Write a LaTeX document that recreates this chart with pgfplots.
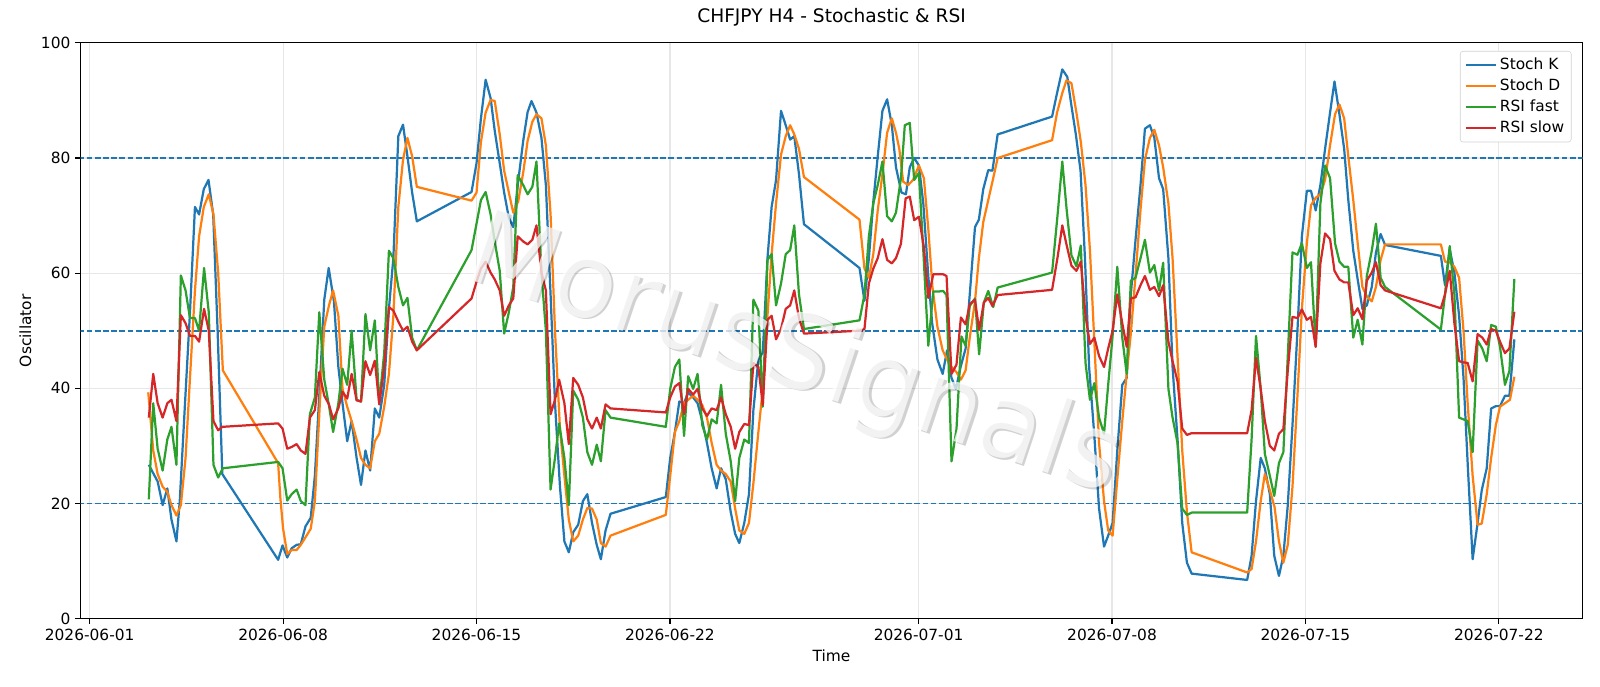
\documentclass[border=0pt]{standalone}
\usepackage{fontspec}
\setmainfont{DejaVu Sans}
\usepackage{pgfplots}
\usepackage{pgfplotstable}
\pgfplotsset{compat=1.18}
\definecolor{C0}{HTML}{1F77B4}
\definecolor{C1}{HTML}{FF7F0E}
\definecolor{C2}{HTML}{2CA02C}
\definecolor{C3}{HTML}{D62728}

\pgfplotstableread{
d v
2.14 26.7
2.46 23.8
2.64 19.7
2.81 22.6
2.96 17.2
3.14 13.4
3.26 20.4
3.45 37.4
3.63 53.2
3.81 71.5
3.96 70.2
4.13 74.6
4.30 76.2
4.47 70.2
4.63 50
4.80 25.1
6.82 10.2
6.98 12.7
7.15 10.6
7.31 12.2
7.49 12.8
7.64 12.9
7.81 16.0
8.00 17.5
8.15 24.8
8.33 40.6
8.49 55.4
8.65 60.9
8.84 55.1
9.00 43.7
9.15 37.4
9.32 30.8
9.48 34.3
9.66 27.9
9.82 23.2
9.98 29.2
10.15 25.7
10.32 36.5
10.48 34.9
10.66 40.6
10.83 53.8
10.99 62.6
11.17 83.8
11.34 85.8
11.50 80.3
11.67 74
11.84 69
13.82 74.1
14.00 79.1
14.16 86.9
14.33 93.6
14.51 90.4
14.66 84.7
14.84 79.1
15.00 74
15.17 69.6
15.33 68
15.51 76
15.69 83
15.85 88
15.99 89.9
16.17 87.9
16.35 83.5
16.51 75.3
16.68 56.3
16.84 37.4
17.02 22.9
17.18 13.4
17.34 11.5
17.50 15
17.68 16.3
17.85 20.4
18.01 21.6
18.18 16.6
18.35 12.8
18.50 10.3
18.67 15.3
18.85 18.2
20.85 21.1
21.01 27.9
21.18 32.4
21.34 37.7
21.51 37.4
21.66 39.3
21.84 38.4
22.00 37.4
22.17 34.3
22.34 30.5
22.51 26.1
22.69 22.6
22.85 26.1
23.02 24.2
23.20 18.5
23.36 14.7
23.51 13.1
23.69 16.6
23.86 21.6
24.02 36.2
24.20 45
24.36 46.2
24.53 62.6
24.68 71.5
24.84 76.2
25.02 88.2
25.19 85.7
25.35 83.2
25.50 83.8
25.67 77.2
25.85 68.5
27.86 60.9
28.04 55.2
28.20 62.6
28.36 72.4
28.52 80.3
28.69 88.2
28.86 90.2
29.03 85.7
29.18 78.4
29.38 74
29.54 73.7
29.68 78.4
29.84 80
30.01 78.7
30.17 72.1
30.35 59.5
30.49 51.3
30.68 45
30.87 42.5
31.03 46.6
31.19 41.8
31.35 39.9
31.52 43.7
31.70 46.9
31.85 56.3
32.04 68
32.18 69.3
32.34 74.6
32.52 77.9
32.67 77.8
32.86 84.1
34.83 87.2
35.01 91.3
35.20 95.4
35.38 94.1
35.53 89.1
35.69 84.1
35.86 77.8
36.02 62.6
36.17 43.7
36.36 31.7
36.53 19.1
36.71 12.5
36.86 14.4
37.02 16.6
37.19 29.2
37.37 40.6
37.53 41.8
37.68 56.3
37.85 65.8
38.03 75.3
38.19 85.1
38.37 85.7
38.53 83.5
38.70 76.5
38.85 74.6
39.04 62.6
39.19 43.7
39.37 31.1
39.54 16.6
39.71 9.7
39.88 7.8
41.89 6.7
42.05 10.9
42.21 20.4
42.38 27.9
42.53 26.1
42.71 21.6
42.87 10.9
43.04 7.4
43.20 10.9
43.36 19.7
43.53 33.6
43.71 50
43.87 66.4
44.05 74.3
44.20 74.3
44.37 70.9
44.54 75.3
44.71 81.6
44.89 87.9
45.05 93.3
45.22 87.9
45.40 81.6
45.55 72.7
45.73 63.9
45.89 58.9
46.06 53.8
46.22 54.4
46.40 57.6
46.55 63.6
46.72 66.8
46.88 64.9
48.90 63
49.05 57.9
49.22 64.2
49.39 60.1
49.56 52.6
49.72 41.8
49.88 26
50.05 10.3
50.23 16.6
50.38 22.3
50.56 26.1
50.72 36.5
50.89 36.9
51.04 36.9
51.22 38.7
51.38 38.7
51.56 48.5
}\stochK

\pgfplotstableread{
d v
2.12 39.3
2.30 29.2
2.46 25.1
2.64 22.9
2.81 22
2.96 19.7
3.14 17.9
3.30 19.7
3.47 27.9
3.63 41.8
3.81 57
3.96 66.4
4.13 71.5
4.31 73.7
4.48 70.2
4.65 60.1
4.82 43.1
6.82 27
6.90 21
7.00 15.6
7.15 11.2
7.31 11.9
7.49 11.9
7.64 12.8
7.81 14.1
8.00 15.6
8.15 20.4
8.33 37.4
8.49 50.7
8.66 54.4
8.81 57
9.00 52.6
9.15 39.9
9.32 36.8
9.48 34.3
9.66 31.1
9.82 27.9
9.98 26.7
10.15 26.1
10.32 30.8
10.48 32.1
10.66 36.8
10.83 42.5
10.99 52.6
11.17 71.5
11.34 79.7
11.50 83.5
11.67 80.3
11.84 75
13.82 72.6
14.00 74
14.16 82.8
14.33 87.9
14.51 90.1
14.66 89.9
14.84 84.1
15.00 77.8
15.17 74
15.33 70.5
15.51 72.5
15.69 77.5
15.85 83
16.02 86.3
16.17 87.6
16.35 86.9
16.51 82.2
16.68 70.2
16.84 50
17.02 33
17.18 24.8
17.34 17.2
17.50 13.4
17.68 14.4
17.85 17.2
18.01 19.2
18.18 19.1
18.35 17.2
18.50 13.1
18.67 12.5
18.85 14.4
20.85 18
21.01 24.8
21.18 32.4
21.34 34.3
21.51 37.4
21.66 38
21.84 38.7
22.00 38
22.17 37.1
22.34 34.9
22.51 30.5
22.69 26.7
22.85 25.7
23.02 25.1
23.20 23.8
23.36 19.1
23.51 15.3
23.69 14.7
23.86 16.6
24.02 23.5
24.20 32.4
24.36 39.9
24.53 52.6
24.68 63.3
24.84 72.1
25.02 80.6
25.19 83.8
25.35 85.7
25.50 84.1
25.67 81.6
25.85 76.7
27.86 69.3
28.04 60.8
28.20 59.2
28.36 63.3
28.52 70.9
28.69 77.2
28.86 84.4
29.03 86.9
29.18 84.4
29.30 81.6
29.44 75.9
29.62 75.3
29.80 76.2
30.01 78.7
30.19 76.5
30.35 67.7
30.50 57.6
30.68 50.7
30.87 46.6
31.03 45
31.19 43.7
31.37 42.8
31.53 41.5
31.70 43.1
31.85 48.8
32.04 55.1
32.18 62.6
32.34 68.9
32.52 72.7
32.70 76.5
32.86 80
34.83 83.1
35.01 87.9
35.20 91.3
35.35 93.5
35.53 93
35.71 87.9
35.87 82.8
36.04 75.3
36.20 64
36.36 48
36.53 30.5
36.71 20.4
36.86 15.3
37.02 14.4
37.19 24.2
37.37 34.3
37.53 42.5
37.68 49.5
37.85 59.6
38.03 71
38.19 79.7
38.37 83.5
38.53 84.9
38.70 82.2
38.85 78.4
39.04 72.1
39.19 62.6
39.37 45.6
39.54 29.2
39.71 18.5
39.88 11.5
41.89 8
42.05 8.6
42.21 13.4
42.38 20.4
42.53 25.1
42.71 22.3
42.88 19.4
43.04 13.4
43.20 9.7
43.36 12.8
43.53 22.9
43.71 38.7
43.87 53.8
44.05 65.2
44.20 71.8
44.37 73.1
44.54 73.7
44.71 76.2
44.89 82.2
45.07 87.6
45.23 89.3
45.40 86.9
45.55 80.3
45.73 72.7
45.89 65.2
46.06 57.6
46.22 56
46.40 55.1
46.55 57.6
46.72 62.3
46.88 65
48.90 65
49.05 62
49.22 61.9
49.39 61.1
49.56 59.2
49.72 50
49.87 37.4
50.05 24.8
50.23 16.3
50.38 16.5
50.56 21.6
50.72 27.9
50.89 33.6
51.04 36.8
51.22 37.4
51.40 38
51.56 42
}\stochD

\pgfplotstableread{
d v
2.14 20.7
2.30 37.4
2.46 29.5
2.64 25.7
2.81 31.1
2.96 33.3
3.14 26.7
3.30 59.6
3.47 57
3.63 52.2
3.81 52.2
3.96 50
4.14 60.9
4.31 53.2
4.48 26.7
4.65 24.5
4.82 26.1
6.82 27.2
6.98 26.1
7.15 20.5
7.31 21.6
7.49 22.4
7.64 20.4
7.81 19.7
7.97 35.5
8.15 38.4
8.31 53.2
8.49 41.5
8.66 37
8.81 32.4
9.00 37.4
9.15 43.4
9.32 40.6
9.48 50
9.66 38
9.82 37.7
9.98 52.9
10.15 46.6
10.32 51.8
10.48 37.4
10.66 46.2
10.83 63.9
10.99 62.6
11.17 57.6
11.34 54.4
11.50 55.7
11.67 48.8
11.84 46.6
13.82 64
14.16 72.7
14.33 74.1
14.51 70.2
14.66 65.5
14.84 60.4
15.00 49.5
15.17 53.2
15.33 57.6
15.49 77
15.69 75.3
15.85 73.7
16.02 75
16.17 79.4
16.35 60.1
16.51 50
16.68 22.4
16.84 27.9
16.99 33.9
17.18 27.9
17.34 19.7
17.50 39.6
17.68 38
17.85 34.9
18.01 28.9
18.18 26.7
18.35 30.2
18.50 27.3
18.67 36.2
18.85 34.9
20.85 33.3
21.01 39.9
21.18 43.7
21.34 45
21.51 31.7
21.66 42.1
21.84 39.9
22.00 42.5
22.17 33.6
22.34 31.1
22.51 34.6
22.69 33.9
22.85 40.6
23.02 32.1
23.20 27.3
23.36 20.4
23.51 27.9
23.69 31.1
23.86 30.5
24.02 55.4
24.20 53.5
24.36 36.8
24.53 62.3
24.68 63.3
24.84 54.4
25.02 58.2
25.19 63.3
25.35 64
25.50 68.3
25.67 56.3
25.85 50.3
27.86 51.8
28.04 56.3
28.20 66.4
28.36 72.1
28.52 75.3
28.69 79.4
28.86 69.9
29.03 69
29.18 70.5
29.36 76.5
29.50 85.7
29.68 86.1
29.84 76.2
30.01 77.4
30.17 63.8
30.35 47.4
30.53 56.8
30.71 56.8
30.89 56.9
31.01 56.2
31.19 27.3
31.37 32.9
31.55 49
31.70 47.4
31.85 54.3
32.04 55.6
32.19 45.9
32.36 54.9
32.52 56.9
32.70 54.1
32.86 57.5
34.83 60.1
35.03 70.2
35.20 79.4
35.36 70.9
35.53 63.1
35.71 61.2
35.87 64.8
36.04 44.4
36.20 38
36.36 40.9
36.53 34.9
36.71 32.1
36.86 40.6
37.02 49.1
37.19 61.1
37.37 48.8
37.53 42.5
37.68 58.7
37.85 59.2
38.03 62.6
38.19 65.8
38.37 60.1
38.53 61.4
38.70 57
38.85 61.8
39.04 39.9
39.19 34.9
39.37 30.5
39.54 19.1
39.71 18
39.88 18.4
41.89 18.4
42.05 31.1
42.21 49.1
42.38 39.9
42.53 28.6
42.71 24.8
42.87 21.3
43.04 27
43.20 28.9
43.36 45.6
43.53 63.6
43.71 63.2
43.87 65.2
44.05 60.9
44.20 61.9
44.37 47.2
44.54 72.1
44.71 78.7
44.89 76.5
45.07 65.2
45.23 62
45.40 61.1
45.55 61.1
45.73 48.8
45.89 51.9
46.06 47.6
46.22 59.5
46.40 63.9
46.55 68.6
46.72 59.2
46.88 57.6
48.90 50.2
49.05 56.3
49.22 64.7
49.39 56.3
49.56 34.9
49.72 34.6
49.87 34.3
50.05 28.9
50.23 48.3
50.40 46.9
50.56 44.7
50.72 51
50.89 50.7
51.04 47.2
51.22 40.6
51.38 43
51.56 59
}\rsiFast

\pgfplotstableread{
d v
2.14 34.9
2.30 42.5
2.46 37.4
2.64 34.9
2.81 37.4
2.96 38
3.14 34.3
3.30 52.7
3.47 51.3
3.63 49.1
3.81 49.1
3.96 48.1
4.14 53.8
4.31 50
4.48 34.3
4.65 32.7
4.80 33.3
6.82 33.9
6.98 33
7.15 29.5
7.31 29.8
7.49 30.3
7.64 29.2
7.81 28.6
7.97 34.9
8.15 36.2
8.31 42.8
8.49 38.7
8.66 37.2
8.81 34.6
9.00 36.5
9.15 39.4
9.32 38.2
9.48 42.5
9.66 37.9
9.82 37.7
9.98 44.7
10.15 42.3
10.32 44.8
10.48 37.2
10.66 43.7
10.83 54.1
10.99 53.5
11.17 51.6
11.34 50
11.50 50.7
11.67 48.1
11.84 46.6
13.82 55.6
14.00 58.5
14.16 60.8
14.33 62
14.51 60.1
14.66 58.9
14.84 57
15.00 52.6
15.17 54.4
15.33 55.6
15.49 66.4
15.69 65.5
15.85 65
16.02 65.8
16.17 68.3
16.35 60.1
16.51 57
16.68 35.5
16.84 38
16.99 41.5
17.18 37.4
17.34 30.3
17.50 41.8
17.68 40.6
17.85 38.4
18.01 34.6
18.18 33
18.35 34.9
18.50 33
18.67 37.2
18.85 36.5
20.85 35.8
21.01 38.4
21.18 40.3
21.34 40.9
21.51 35.5
21.66 39.9
21.84 38.9
22.00 39.9
22.17 36.5
22.34 35.2
22.51 36.5
22.69 36.2
22.85 38.4
23.02 35.5
23.20 33.3
23.36 29.5
23.51 32.4
23.69 33.8
23.86 33.6
24.02 44.4
24.20 43.7
24.36 37.1
24.53 51.9
24.68 52.6
24.84 48.5
25.02 50.3
25.19 53.8
25.35 54.4
25.50 57
25.67 52.2
25.85 49.5
27.86 50
28.04 50.3
28.20 58.2
28.36 60.8
28.52 62.6
28.69 65.9
28.86 62.3
29.03 61.7
29.18 62.6
29.36 65.1
29.53 73
29.68 73.3
29.84 69.2
30.01 69.8
30.19 64.5
30.35 55.7
30.53 59.8
30.71 59.8
30.89 59.8
31.01 59.5
31.19 42.5
31.37 44.1
31.53 52.3
31.70 51.1
31.85 54.6
32.04 55.4
32.19 50.1
32.36 54.9
32.52 55.7
32.67 54.3
32.86 56.2
34.83 57.1
35.03 62.8
35.20 68.3
35.36 64.8
35.53 61.3
35.71 60.4
35.87 62
36.04 52.6
36.20 47.7
36.36 48.8
36.53 45.6
36.71 43.7
36.86 46.9
37.02 50
37.19 56.3
37.37 51.3
37.53 47.2
37.68 55.6
37.85 55.8
38.03 57.9
38.19 59.5
38.37 57.1
38.53 57.6
38.70 56
38.85 57.9
39.04 48.1
39.19 44.7
39.37 41.2
39.54 33
39.71 31.9
39.88 32.2
41.89 32.2
42.05 36.2
42.21 45.3
42.38 39.9
42.53 34.3
42.71 30
42.87 29.2
43.04 32.1
43.20 32.9
43.36 43.1
43.53 52.4
43.71 52.2
43.87 53.7
44.05 51.9
44.20 52.4
44.37 47.2
44.54 61.7
44.71 66.9
44.89 65.9
45.05 60.4
45.23 58.9
45.40 58.4
45.55 58.4
45.73 52.7
45.89 53.9
46.06 52
46.22 58.7
46.40 60.1
46.55 61.9
46.72 57.9
46.88 57
48.90 53.9
49.05 56.3
49.22 60.4
49.39 51.3
49.56 44.7
49.72 44.5
49.87 44.4
50.05 41.2
50.23 49.4
50.40 48.8
50.56 47.6
50.72 50.3
50.89 50
51.04 48.1
51.22 46.1
51.38 46.9
51.56 53.3
}\rsiSlow

\begin{document}
\begin{tikzpicture}
\path[use as bounding box] (-58pt,-48.7pt) rectangle (1093.9pt,445.3pt);
\begin{axis}[
  at={(0,0)}, anchor=south west,
  scale only axis, width=1081.4pt, height=414.4pt,
  xmin=-0.33, xmax=54.03, ymin=0, ymax=100,
  xtick={0,7,14,21,30,37,44,51},
  xticklabels={2026-06-01,2026-06-08,2026-06-15,2026-06-22,2026-07-01,2026-07-08,2026-07-15,2026-07-22},
  ytick={0,20,40,60,80,100},
  tick pos=left, tick align=outside,
  major tick length=3.8pt,
  every tick/.style={black, line width=0.85pt},
  axis line style={line width=0.85pt},
  grid=major,
  major grid style={gray!19, line width=0.85pt},
  ticklabel style={font=\fontsize{11.1}{13}\selectfont},
  /pgf/number format/assume math mode=true,
  xlabel={Time}, ylabel={Oscillator},
  label style={font=\fontsize{11.1}{13}\selectfont},
  xlabel style={at={(axis description cs:0.5,-0.0654)}, anchor=center},
  ylabel style={at={(axis description cs:-0.0367,0.5)}, anchor=center},
  title={CHFJPY H4 - Stochastic \& RSI},
  title style={at={(axis description cs:0.5,1.0302)}, anchor=center, font=\fontsize{13.4}{15}\selectfont},
  legend cell align=left,
  legend style={at={(1,1)}, anchor=north east, xshift=-8pt, yshift=-5.8pt,
    draw=gray!35, rounded corners=2pt, font=\fontsize{11.1}{13}\selectfont,
    inner sep=3pt, row sep=1.2pt},
  legend image code/.code={\draw[#1] (0pt,0pt) -- (22pt,0pt);},
]
\addplot[C0, dash pattern=on 4.1pt off 1.8pt, line width=1.15pt, forget plot] coordinates {(-1,20) (55,20)};
\addplot[C0, dash pattern=on 4.1pt off 1.8pt, line width=1.15pt, forget plot] coordinates {(-1,50) (55,50)};
\addplot[C0, dash pattern=on 4.1pt off 1.8pt, line width=1.15pt, forget plot] coordinates {(-1,80) (55,80)};
\addplot[C0, line width=1.6pt, line join=round] table[x=d,y=v] {\stochK};
\addlegendentry{Stoch K}
\addplot[C1, line width=1.6pt, line join=round] table[x=d,y=v] {\stochD};
\addlegendentry{Stoch D}
\addplot[C2, line width=1.6pt, line join=round] table[x=d,y=v] {\rsiFast};
\addlegendentry{RSI fast}
\addplot[C3, line width=1.6pt, line join=round] table[x=d,y=v] {\rsiSlow};
\addlegendentry{RSI slow}
\node[rotate=-18.5, font=\fontsize{74}{74}\selectfont, text=black, opacity=0.18] at (axis cs:25.6,44.9) {MorusSignals};
\node[rotate=-18.5, font=\fontsize{74}{74}\selectfont, text=white, opacity=0.75] at (axis cs:25.5,45.2) {MorusSignals};
\end{axis}
\end{tikzpicture}
\end{document}
